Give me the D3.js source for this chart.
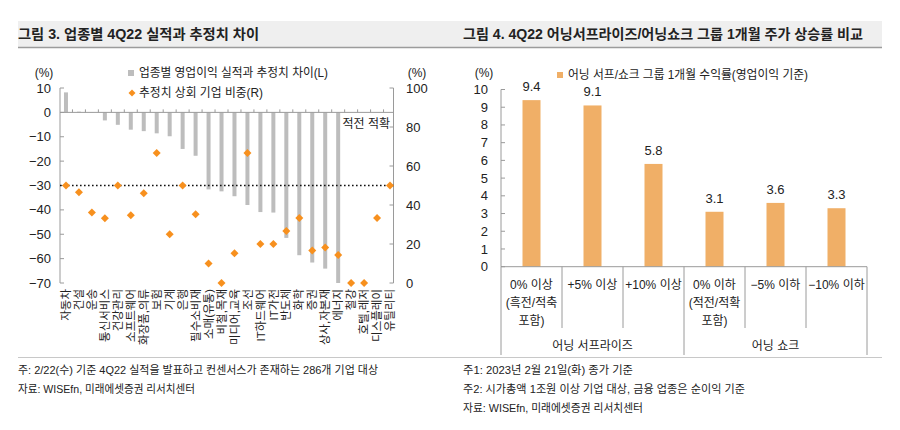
<!DOCTYPE html>
<html><head><meta charset="utf-8">
<script src="https://cdn.jsdelivr.net/npm/d3@7"></script>
<style>
body{margin:0;background:#fff;}
svg{display:block;font-family:"Liberation Sans","Noto Sans CJK KR",sans-serif;}
</style></head>
<body><svg id="c" width="900" height="430"></svg>
<script>
// ---------- Data: left chart ----------
const sectors = ["자동차","건설","운송","통신서비스","건강관리","소프트웨어","화장품,의류","보험","기계","은행","필수소비재","소매(유통)","비철,목재","미디어,교육","조선","IT하드웨어","IT가전","반도체","화학","증권","상사,자본재","에너지","철강","호텔,레저","디스플레이","유틸리티"];
const diffValues = [8.2,0.3,0.1,-3.3,-5.1,-7.1,-7.7,-8.6,-9.8,-15.0,-17.8,-31.6,-32.4,-34.4,-38.0,-40.9,-41.1,-51.5,-58.6,-61.6,-64.1,-70.0,null,null,null,null];
const beatShare = [50,46.5,36.2,33.2,50,34.7,46.0,66.7,25.0,50,35.2,10,0,15.2,66.7,20,20,26.7,33.3,16.7,18.2,14.3,0,0,33.3,50];
const leftTicks = [10,0,-10,-20,-30,-40,-50,-60,-70];
const rightTicks = [0,20,40,60,80,100];
const leftLegend = ["업종별 영업이익 실적과 추정치 차이(L)","추정치 상회 기업 비중(R)"];
const leftRefValue = -30;

// ---------- Data: right chart ----------
const groupCats = [["0% 이상","(흑전/적축","포함)"],["+5% 이상"],["+10% 이상"],["0% 이하","(적전/적확","포함)"],["−5% 이하"],["−10% 이하"]];
const returns = [9.4,9.1,5.8,3.1,3.6,3.3];
const groups = [{name:"어닝 서프라이즈",from:0,to:3},{name:"어닝 쇼크",from:3,to:6}];
const returnTicks = [0,1,2,3,4,5,6,7,8,9,10];
const rightLegend = "어닝 서프/쇼크 그룹 1개월 수익률(영업이익 기준)";

const titles = ["그림 3. 업종별 4Q22 실적과 추정치 차이","그림 4. 4Q22 어닝서프라이즈/어닝쇼크 그룹 1개월 주가 상승률 비교"];
const notesLeft = ["주: 2/22(수) 기준 4Q22 실적을 발표하고 컨센서스가 존재하는 286개 기업 대상","자료: WISEfn, 미래에셋증권 리서치센터"];
const notesRight = ["주1: 2023년 2월 21일(화) 종가 기준","주2: 시가총액 1조원 이상 기업 대상, 금융 업종은 순이익 기준","자료: WISEfn, 미래에셋증권 리서치센터"];

const svg = d3.select("#c");
const txt = "#222", axisCol = "#9a9a9a";

// ---------- Title band & footnote rule ----------
svg.append("rect").attr("x",18).attr("y",21).attr("width",864).attr("height",26).attr("fill","#efefef");
svg.append("line").attr("x1",18).attr("x2",882).attr("y1",47.5).attr("y2",47.5).attr("stroke","#9c9c9c").attr("stroke-width",1.5);
svg.append("text").attr("x",18).attr("y",39).attr("font-size",14).attr("font-weight","bold").attr("fill",txt)
  .attr("textLength",241).attr("lengthAdjust","spacingAndGlyphs").text(titles[0]);
svg.append("text").attr("x",463).attr("y",39).attr("font-size",14).attr("font-weight","bold").attr("fill",txt)
  .attr("textLength",400).attr("lengthAdjust","spacingAndGlyphs").text(titles[1]);
svg.append("line").attr("x1",18).attr("x2",882).attr("y1",357.5).attr("y2",357.5).attr("stroke","#c8c8c8");
const nl = [360,177];
notesLeft.forEach((t,i)=>svg.append("text").attr("x",18).attr("y",374+i*19).attr("font-size",11).attr("fill",txt)
  .attr("textLength",nl[i]).attr("lengthAdjust","spacingAndGlyphs").text(t));
const nr = [170,282,180];
notesRight.forEach((t,i)=>svg.append("text").attr("x",463).attr("y",374+i*19).attr("font-size",11).attr("fill",txt)
  .attr("textLength",nr[i]).attr("lengthAdjust","spacingAndGlyphs").text(t));

// ---------- Left chart ----------
const xL = d3.scaleBand().domain(sectors).range([59.5,396.5]);
const yL = d3.scaleLinear().domain([-70,10]).range([283,88]);
const yR = d3.scaleLinear().domain([0,100]).range([283,88]);
const axL = 60, axR = 393.5;
const gL = svg.append("g");

// left axis
gL.append("line").attr("x1",axL).attr("x2",axL).attr("y1",yL(10)).attr("y2",yL(-70)).attr("stroke",axisCol);
leftTicks.forEach(v=>{
  gL.append("line").attr("x1",axL).attr("x2",axL+4).attr("y1",yL(v)).attr("y2",yL(v)).attr("stroke",axisCol);
  gL.append("text").attr("x",51).attr("y",yL(v)).attr("dy","0.35em").attr("text-anchor","end")
    .attr("font-size",13).attr("fill",txt).text(d3.format("")(v).replace("-","−"));
});
gL.append("text").attr("x",44).attr("y",73).attr("dy","0.35em").attr("text-anchor","middle").attr("font-size",12).attr("fill",txt).text("(%)");
// right axis
gL.append("line").attr("x1",axR).attr("x2",axR).attr("y1",yR(100)).attr("y2",yR(0)).attr("stroke",axisCol);
rightTicks.forEach(v=>{
  gL.append("line").attr("x1",axR-4).attr("x2",axR).attr("y1",yR(v)).attr("y2",yR(v)).attr("stroke",axisCol);
  gL.append("text").attr("x",406).attr("y",yR(v)).attr("dy","0.35em").attr("text-anchor","start")
    .attr("font-size",13).attr("fill",txt).text(v);
});
gL.append("text").attr("x",417).attr("y",73).attr("dy","0.35em").attr("text-anchor","middle").attr("font-size",12).attr("fill",txt).text("(%)");

// bars
gL.selectAll("rect.bar").data(sectors.map((s,i)=>({s,v:diffValues[i]})).filter(d=>d.v!==null))
  .enter().append("rect").attr("class","bar")
  .attr("x",d=>xL(d.s)+xL.bandwidth()/2-2).attr("width",4)
  .attr("y",d=>yL(Math.max(0,d.v))).attr("height",d=>Math.abs(yL(d.v)-yL(0)))
  .attr("fill","#bdbdbd");

// zero line with category ticks
gL.append("line").attr("x1",axL).attr("x2",axR).attr("y1",yL(0)).attr("y2",yL(0)).attr("stroke",axisCol);
sectors.forEach((s,i)=>{
  if(i===0) return;
  const bx = xL(s);
  gL.append("line").attr("x1",bx).attr("x2",bx).attr("y1",yL(0)).attr("y2",yL(0)-3).attr("stroke",axisCol);
});

// dotted reference
gL.append("line").attr("x1",axL).attr("x2",axR).attr("y1",yL(leftRefValue)).attr("y2",yL(leftRefValue))
  .attr("stroke","#111").attr("stroke-width",1.6).attr("stroke-dasharray","1.6,2.4");

// diamonds
const diamond = r => `M0,${-r}L${r},0L0,${r}L${-r},0Z`;
gL.selectAll("path.dia").data(sectors.map((s,i)=>({s,v:beatShare[i]}))).enter().append("path").attr("class","dia")
  .attr("d",diamond(4)).attr("fill","#f7901e")
  .attr("transform",d=>`translate(${xL(d.s)+xL.bandwidth()/2},${yR(d.v)})`);

// note label
gL.append("text").attr("x",390).attr("y",124).attr("dy","0.35em").attr("text-anchor","end").attr("font-size",12).attr("fill",txt).text("적전 적확");

// x labels (rotated)
sectors.forEach(s=>{
  const cx = xL(s)+xL.bandwidth()/2;
  gL.append("text").attr("transform",`translate(${cx},289) rotate(-90)`).attr("dy","0.36em")
    .attr("text-anchor","end").attr("font-size",11.5).attr("fill",txt).text(s);
});

// legend
gL.append("rect").attr("x",128).attr("y",70).attr("width",6).attr("height",6).attr("fill","#bdbdbd");
gL.append("text").attr("x",139).attr("y",73).attr("dy","0.35em").attr("font-size",12.5).attr("fill",txt)
  .attr("textLength",189).attr("lengthAdjust","spacingAndGlyphs").text(leftLegend[0]);
gL.append("path").attr("d",diamond(3.5)).attr("fill","#f7901e").attr("transform","translate(132,93)");
gL.append("text").attr("x",139).attr("y",93).attr("dy","0.35em").attr("font-size",12.5).attr("fill",txt)
  .attr("textLength",124).attr("lengthAdjust","spacingAndGlyphs").text(leftLegend[1]);

// ---------- Right chart ----------
const cats = groupCats.map((d,i)=>"c"+i);
const xB = d3.scaleBand().domain(cats).range([501,867]);
const yB = d3.scaleLinear().domain([0,10]).range([266.7,89.5]);
const gR = svg.append("g");
gR.append("line").attr("x1",501).attr("x2",501).attr("y1",yB(10)).attr("y2",yB(0)).attr("stroke",axisCol);
returnTicks.forEach(v=>{
  gR.append("line").attr("x1",501).attr("x2",505).attr("y1",yB(v)).attr("y2",yB(v)).attr("stroke",axisCol);
  gR.append("text").attr("x",488).attr("y",yB(v)).attr("dy","0.35em").attr("text-anchor","end")
    .attr("font-size",13).attr("fill",txt).text(v);
});
gR.append("text").attr("x",484).attr("y",73).attr("dy","0.35em").attr("text-anchor","middle").attr("font-size",12).attr("fill",txt).text("(%)");

const bw = 18;
gR.selectAll("rect.rb").data(returns).enter().append("rect").attr("class","rb")
  .attr("x",(d,i)=>xB(cats[i])+xB.bandwidth()/2-bw/2).attr("width",bw)
  .attr("y",d=>yB(d)).attr("height",d=>yB(0)-yB(d)).attr("fill","#f0af67");
gR.selectAll("text.vl").data(returns).enter().append("text").attr("class","vl")
  .attr("x",(d,i)=>xB(cats[i])+xB.bandwidth()/2).attr("y",d=>yB(d)-9)
  .attr("text-anchor","middle").attr("font-size",13).attr("fill",txt).text(d=>d3.format(".1f")(d));

gR.append("line").attr("x1",501).attr("x2",867).attr("y1",yB(0)).attr("y2",yB(0)).attr("stroke",axisCol);
// separators
cats.forEach((c,i)=>{
  const bx = xB(c);
  const isGroup = groups.some(g=>g.from===i);
  gR.append("line").attr("x1",bx).attr("x2",bx).attr("y1",yB(0)).attr("y2",isGroup?355:328).attr("stroke",axisCol);
});
gR.append("line").attr("x1",867).attr("x2",867).attr("y1",yB(0)).attr("y2",355).attr("stroke",axisCol);
// category labels
groupCats.forEach((lines,i)=>{
  const cx = xB(cats[i])+xB.bandwidth()/2;
  lines.forEach((t,j)=>gR.append("text").attr("x",cx).attr("y",288.5+j*18).attr("text-anchor","middle")
    .attr("font-size",12).attr("fill",txt).text(t));
});
groups.forEach(g=>{
  const cx = (xB(cats[g.from]) + xB(cats[g.to-1])+xB.bandwidth())/2;
  gR.append("text").attr("x",cx).attr("y",349.5).attr("text-anchor","middle").attr("font-size",12).attr("fill",txt).text(g.name);
});
// legend
gR.append("rect").attr("x",557).attr("y",72).attr("width",6).attr("height",6).attr("fill","#f0af67");
gR.append("text").attr("x",568).attr("y",75).attr("dy","0.35em").attr("font-size",12.5).attr("fill",txt)
  .attr("textLength",240).attr("lengthAdjust","spacingAndGlyphs").text(rightLegend);
</script></body></html>
